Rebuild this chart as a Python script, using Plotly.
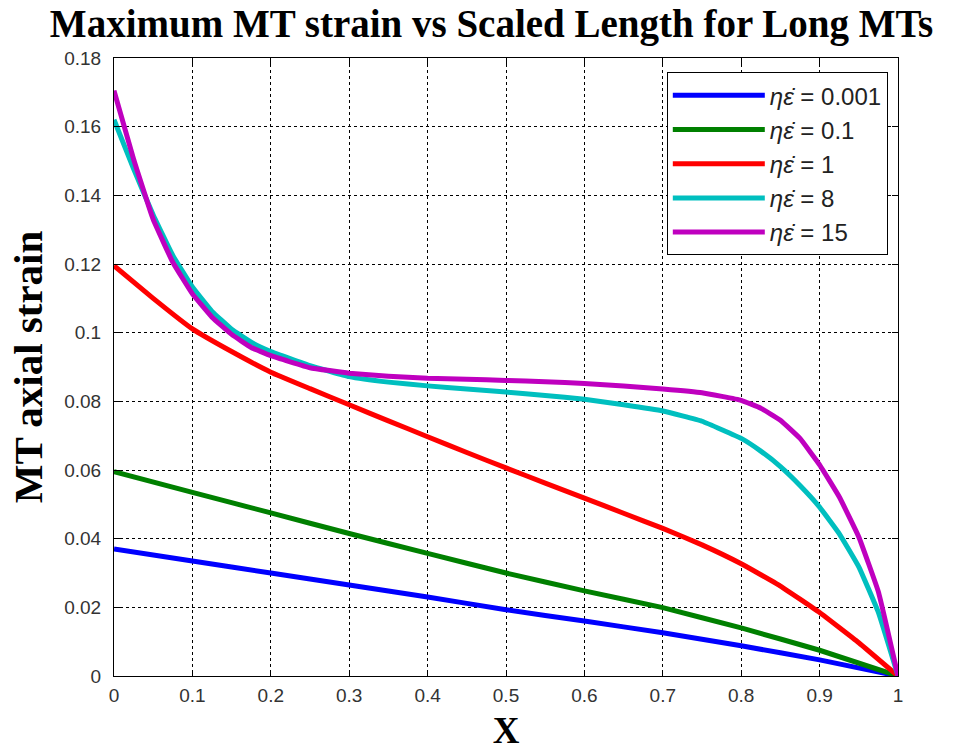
import plotly.graph_objects as go

# Data
x_blue = [0, 0.1, 0.2, 0.3, 0.4, 0.5, 0.6, 0.7, 0.8, 0.9, 1.0]
y_blue = [0.037, 0.0335, 0.030, 0.0265, 0.0230, 0.0193, 0.0160, 0.0126, 0.0088, 0.0047, 0.0]

x_green = [0, 0.1, 0.2, 0.3, 0.4, 0.5, 0.6, 0.7, 0.8, 0.9, 1.0]
y_green = [0.0595, 0.0535, 0.0475, 0.0415, 0.0357, 0.0300, 0.0248, 0.0199, 0.0140, 0.0075, 0.0]

x_red = [0, 0.05, 0.1, 0.15, 0.2, 0.25, 0.3, 0.35, 0.4, 0.45, 0.5, 0.55, 0.6, 0.65, 0.7, 0.75, 0.8,
         0.85, 0.9, 0.95, 1.0]
y_red = [0.1195, 0.1100, 0.1011, 0.0945, 0.0885, 0.0837, 0.0790, 0.0743, 0.0697, 0.0651, 0.0606,
         0.0562, 0.0518, 0.0474, 0.0430, 0.0382, 0.0327, 0.0262, 0.0185, 0.0097, 0.0]

x_cyan = [0, 0.025, 0.05, 0.075, 0.1, 0.125, 0.15, 0.175, 0.2, 0.25, 0.3, 0.35, 0.4, 0.45, 0.5,
          0.55, 0.6, 0.65, 0.7, 0.75, 0.8, 0.825, 0.85, 0.875, 0.9, 0.925, 0.95, 0.975, 1.0]
y_cyan = [0.162, 0.1477, 0.1343, 0.1225, 0.1133, 0.1062, 0.1010, 0.0972, 0.0945, 0.0904,
          0.0872, 0.0856, 0.0845, 0.0836, 0.0827, 0.0817, 0.0806, 0.0790, 0.0772, 0.0742, 0.0692,
          0.0655, 0.0610, 0.0555, 0.0492, 0.0415, 0.0318, 0.0185, 0.0]

x_purple = [0, 0.025, 0.05, 0.075, 0.1, 0.125, 0.15, 0.175, 0.2, 0.25, 0.3, 0.35, 0.4, 0.45, 0.5,
            0.55, 0.6, 0.65, 0.7, 0.75, 0.8, 0.825, 0.85, 0.875, 0.9, 0.925, 0.95, 0.975, 1.0]
y_purple = [0.1705, 0.1505, 0.1330, 0.1205, 0.1113, 0.1045, 0.0995, 0.0957, 0.0933, 0.0898,
            0.0882, 0.0873, 0.0867, 0.0864, 0.0861, 0.0857, 0.0852, 0.0845, 0.0836, 0.0825, 0.0803,
            0.0780, 0.0745, 0.0692, 0.0615, 0.0522, 0.0405, 0.0245, 0.0]

names = ["<i>ηε̇</i> = 0.001", "<i>ηε̇</i> = 0.1", "<i>ηε̇</i> = 1", "<i>ηε̇</i> = 8", "<i>ηε̇</i> = 15"]
colors = ["#0000ff", "#008000", "#ff0000", "#00bfbf", "#bf00bf"]
xs = [x_blue, x_green, x_red, x_cyan, x_purple]
ys = [y_blue, y_green, y_red, y_cyan, y_purple]

x_ticks = [0, 0.1, 0.2, 0.3, 0.4, 0.5, 0.6, 0.7, 0.8, 0.9, 1]
x_ticklabels = ["0", "0.1", "0.2", "0.3", "0.4", "0.5", "0.6", "0.7", "0.8", "0.9", "1"]
y_ticks = [0, 0.02, 0.04, 0.06, 0.08, 0.1, 0.12, 0.14, 0.16, 0.18]
y_ticklabels = ["0", "0.02", "0.04", "0.06", "0.08", "0.1", "0.12", "0.14", "0.16", "0.18"]

fig = go.Figure()
for i in range(5):
    fig.add_trace(go.Scatter(x=xs[i], y=ys[i], mode="lines", name=names[i],
                             line=dict(color=colors[i], width=5, shape="spline", smoothing=0.3),
                             legendgroup=str(i)))

axis_common = dict(showline=True, linecolor="black", linewidth=1, mirror="ticks",
                   ticks="inside", ticklen=6, tickcolor="black",
                   showgrid=True, gridcolor="black", gridwidth=1, griddash="dot",
                   zeroline=False, automargin=False,
                   tickfont=dict(family="Liberation Sans, Arial", size=19, color="#333"))

fig.update_layout(
    width=960, height=751,
    margin=dict(l=114, r=62, t=58, b=75, autoexpand=False),
    paper_bgcolor="white", plot_bgcolor="white",
    title=dict(text="<b>Maximum MT strain vs Scaled Length for Long MTs</b>",
               x=0.512, xanchor="center", y=0.969, yanchor="middle", automargin=False,
               font=dict(family="Liberation Serif, Times New Roman", size=39, color="black")),
    xaxis=dict(range=[0, 1], tickvals=x_ticks, ticktext=x_ticklabels, ticklabelstandoff=2,
               title=dict(text="<b>X</b>", standoff=12,
                          font=dict(family="Liberation Serif, Times New Roman", size=37, color="black")),
               **axis_common),
    yaxis=dict(range=[0, 0.18], tickvals=y_ticks, ticktext=y_ticklabels, ticklabelstandoff=8,
               title=dict(text="<b>MT axial strain</b>", standoff=8,
                          font=dict(family="Liberation Serif, Times New Roman", size=41, color="black")),
               **axis_common),
    legend=dict(x=0.987, xanchor="right", y=0.977, yanchor="top",
                bgcolor="white", bordercolor="black", borderwidth=1,
                font=dict(family="Liberation Sans, Arial", size=24, color="#222"),
                tracegroupgap=0, itemwidth=92),
    showlegend=True,
)

fig.write_html("out.html", post_script="document.body.style.margin='0';",
               config={"displayModeBar": False})
